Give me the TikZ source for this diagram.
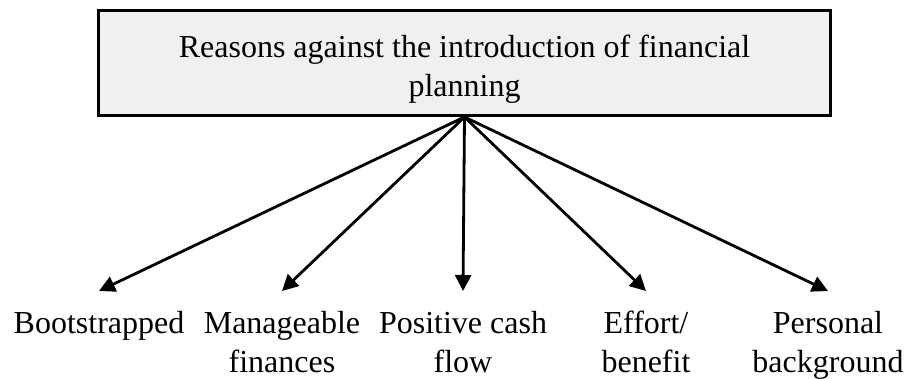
\documentclass[tikz,border=0pt]{standalone}
\usepackage{fontspec}
\setmainfont{Liberation Serif}
\usepackage{tikz}
\usetikzlibrary{arrows.meta, positioning, calc}
\newcommand{\diagfont}{\fontsize{32}{39}\selectfont}
\begin{document}
\begin{tikzpicture}[x=1pt,y=-1pt,
					reasonbox/.style={draw,line width=3pt,fill=black!6,minimum width=732pt,minimum height=105pt},
					reasontext/.style={anchor=north,inner sep=0pt,align=center,font=\diagfont},
					reason/.style={anchor=north,inner xsep=0pt,inner ysep=14.7pt,align=center,font=\diagfont},
					link/.style={line width=2.8pt,-{Triangle[length=16pt,width=16pt]}}]
					\useasboundingbox (0,0) rectangle (906,378);
					
					\node (reasons) at (464.5,63) [reasonbox] {};
					\node (reasonstext) at (464.5,29.7) [reasontext] {\strut Reasons against the introduction of financial\\\strut planning};
					
					\node (boot) at (99,291) [reason] {\strut Bootstrapped};
					\node (manage) at (282,291) [reason] {\strut Manageable\\\strut finances};
					\node (cash) at (463,291) [reason] {\strut Positive cash\\\strut flow};
					\node (effort) at (646,291) [reason] {\strut Effort/\\\strut benefit};
					\node (personal) at (828,291) [reason] {\strut Personal\\\strut background};
					
					\draw[link] (reasons.south) -- (boot.north);
					\draw[link] (reasons.south) -- (manage.north);
					\draw[link] (reasons.south) -- (cash.north);
					\draw[link] (reasons.south) -- (effort.north);
					\draw[link] (reasons.south) -- (personal.north);
				\end{tikzpicture}
\end{document}
